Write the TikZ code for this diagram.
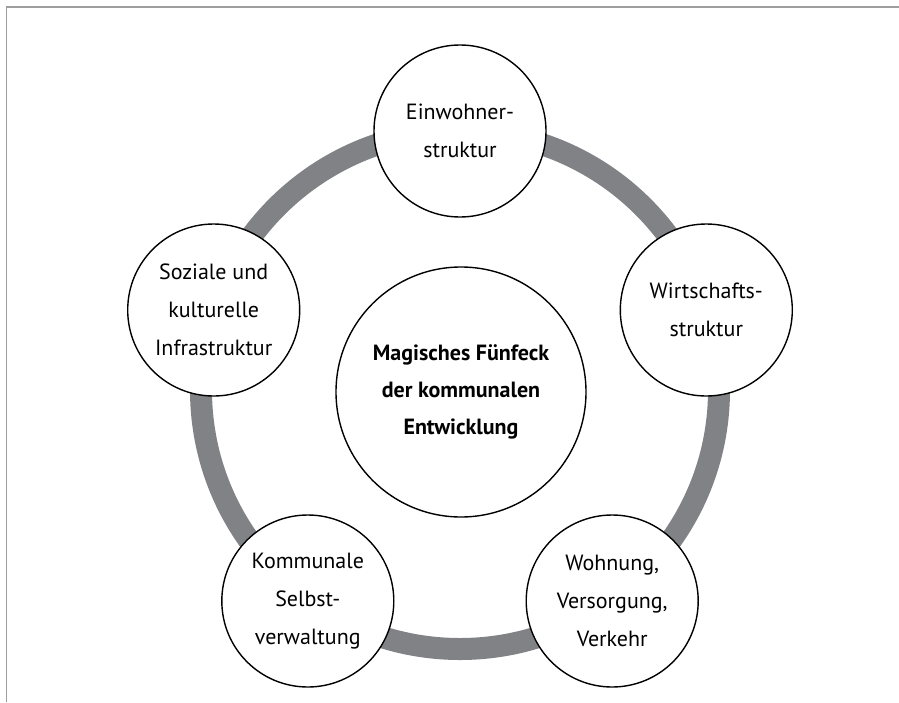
\documentclass[tikz,border=0pt]{standalone}
\usepackage{fontspec}
\setmainfont{PT Sans}
\definecolor{ringgray}{RGB}{128,130,133}
\definecolor{framegray}{RGB}{158,158,158}
\begin{document}
\begin{tikzpicture}[x=1pt,y=-1pt,
  outer/.style={circle,draw=black,line width=1.4pt,fill=white,minimum size=172pt,inner sep=0pt,
    align=center,font=\fontsize{22}{38}\selectfont},
  inner/.style={circle,draw=black,line width=1.4pt,fill=white,minimum size=250pt,inner sep=0pt,
    align=center,font=\fontsize{22}{37}\selectfont\bfseries},
  ring/.style={draw=ringgray,line width=22pt},
  framel/.style={draw=framegray,line width=1.6pt}]
\useasboundingbox (0,0) rectangle (899,702);
\coordinate (fa) at (6.5,702);
\coordinate (fb) at (6.5,7);
\coordinate (fc) at (899,7);
\draw[framel] (fa) -- (fb) -- (fc);
\coordinate (C) at (460,390);
\draw[ring] (C) circle (259);
\node[inner] (mid) at (461,392) {Magisches Fünfeck\\der kommunalen\\Entwicklung};
\node[outer] (n1) at (460,131) {Einwohner-\\struktur};
\node[outer] (n2) at (706.3,310) {Wirtschafts-\\struktur};
\node[outer] (n3) at (612.2,601) {Wohnung,\\Versorgung,\\Verkehr};
\node[outer] (n4) at (307.8,601) {Kommunale\\Selbst-\\verwaltung};
\node[outer] (n5) at (213.7,310) {Soziale und\\kulturelle\\Infrastruktur};
\end{tikzpicture}
\end{document}
